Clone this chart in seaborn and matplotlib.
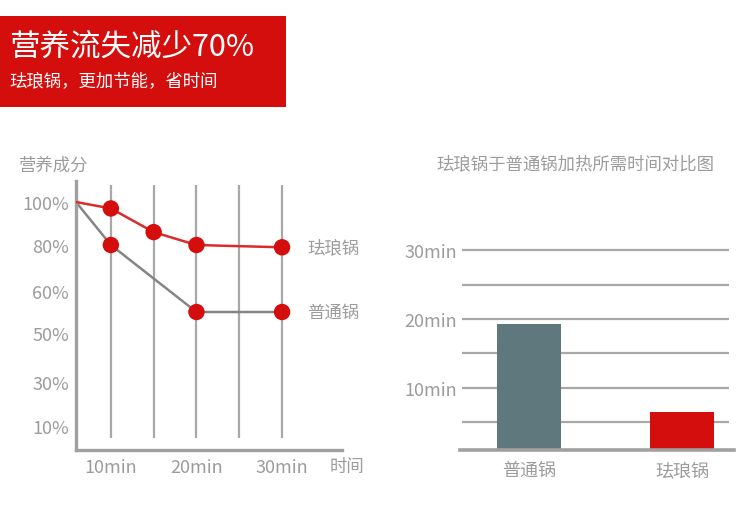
import numpy as np
import pandas as pd
import matplotlib
matplotlib.use("Agg")
import matplotlib.pyplot as plt
import seaborn as sns
from matplotlib.patches import Rectangle

# left chart: nutrient kept over cooking time
minutes_enamel = [0, 10, 15, 20, 30]
nutrients_enamel = [100, 97, 86, 80, 79]
minutes_normal = [0, 10, 20, 30]
nutrients_normal = [100, 80, 55, 55]
pct_ticks = [10, 30, 50, 60, 80, 100]
time_ticks = [10, 20, 30]
time_grid = [10, 15, 20, 25, 30]

# right chart: heating time
pots = ["普通锅", "珐琅锅"]
heat_minutes = [19.3, 6.5]
bar_ticks = [10, 20, 30]
bar_grid = [5, 10, 15, 20, 25, 30]

RED = "#d40d0d"
GREY_TXT = "#9c9c9c"
GRID = "#a8a8a8"
AXIS = "#a0a0a0"

sns.set_theme(style="white")
plt.rcParams['font.family'] = ['Noto Sans CJK SC', 'DejaVu Sans']

fig = plt.figure(figsize=(7.5, 5.06), dpi=100)

# header box
fig.patches.append(Rectangle((0, 0.7866), 0.3813, 0.1798, transform=fig.transFigure,
                             facecolor=RED, edgecolor="none"))
fig.text(0.012, 0.905, "营养流失减少70%", color="white", fontsize=22, va="center", ha="left")
fig.text(0.013, 0.840, "珐琅锅，更加节能，省时间", color="white", fontsize=12.5, va="center", ha="left")

# ---- left chart ----
ax1 = fig.add_axes([0.1013, 0.1087, 0.3547, 0.5316])

# the printed axes are not linear, so map them piecewise
y_vals = [0, 10, 30, 50, 60, 80, 100, 110]
y_pos = [0, 24, 68, 117, 159, 205, 248, 269]
x_vals = [0, 10, 37]
x_pos = [0, 35, 267]

def fwd_y(v):
    return np.interp(v, y_vals, y_pos)

def inv_y(p):
    return np.interp(p, y_pos, y_vals)

def fwd_x(v):
    return np.interp(v, x_vals, x_pos)

def inv_x(p):
    return np.interp(p, x_pos, x_vals)

ax1.set_yscale('function', functions=(fwd_y, inv_y))
ax1.set_xscale('function', functions=(fwd_x, inv_x))

ax1.vlines(time_grid, 5, 108, color=GRID, lw=1.6, zorder=1)

df_e = pd.DataFrame({"t": minutes_enamel, "v": nutrients_enamel})
df_n = pd.DataFrame({"t": minutes_normal, "v": nutrients_normal})
sns.lineplot(data=df_n, x="t", y="v", color="#858585", lw=1.8, ax=ax1, zorder=2)
sns.lineplot(data=df_e, x="t", y="v", color="#dd2a2a", lw=1.8, ax=ax1, zorder=3)
sns.scatterplot(data=df_n.iloc[1:], x="t", y="v", color=RED, s=140, edgecolor="none", ax=ax1, zorder=4)
sns.scatterplot(data=df_e.iloc[1:], x="t", y="v", color=RED, s=140, edgecolor="none", ax=ax1, zorder=4)

ax1.set_xlim(0, 37)
ax1.set_ylim(0, 110)
ax1.set_yticks(pct_ticks, labels=[f"{v}%" for v in pct_ticks])
ax1.set_xticks(time_ticks, labels=[f"{v}min" for v in time_ticks])
ax1.minorticks_off()
ax1.tick_params(axis="both", length=0, colors=GREY_TXT, labelsize=13)
ax1.tick_params(axis="y", pad=5)
ax1.tick_params(axis="x", pad=6)
ax1.set_xlabel("")
ax1.set_ylabel("")
for s in ["top", "right"]:
    ax1.spines[s].set_visible(False)
for s in ["left", "bottom"]:
    ax1.spines[s].set_color(AXIS)
    ax1.spines[s].set_linewidth(2.4)
ax1.grid(False)

ax1.annotate("珐琅锅", (minutes_enamel[-1], nutrients_enamel[-1]), xytext=(18, 0),
             textcoords="offset points", va="center", ha="left", color=GREY_TXT, fontsize=12.5)
ax1.annotate("普通锅", (minutes_normal[-1], nutrients_normal[-1]), xytext=(18, 0),
             textcoords="offset points", va="center", ha="left", color=GREY_TXT, fontsize=12.5)

fig.text(0.025, 1 - 166 / 506, "营养成分", color=GREY_TXT, fontsize=12.5, va="center", ha="left")
fig.text(0.44, 1 - 467 / 506, "时间", color=GREY_TXT, fontsize=12.5, va="center", ha="left")

# ---- right chart ----
ax2 = fig.add_axes([0.6133, 0.1087, 0.3653, 0.417])
ax2.hlines(bar_grid, -0.44, 1.31, color=GRID, lw=1.6, zorder=1)
sns.barplot(x=pots, y=heat_minutes, hue=pots, palette=["#5f787d", RED], width=0.42,
            legend=False, ax=ax2, zorder=2, saturation=1, linewidth=0)
ax2.set_xlim(-0.451, 1.34)
ax2.set_ylim(1.0, 31.6)
ax2.set_yticks(bar_ticks, labels=[f"{v}min" for v in bar_ticks])
ax2.tick_params(axis="both", length=0, colors=GREY_TXT, labelsize=13)
ax2.tick_params(axis="y", pad=2)
ax2.tick_params(axis="x", pad=8)
ax2.set_xlabel("")
ax2.set_ylabel("")
for s in ["top", "right", "left"]:
    ax2.spines[s].set_visible(False)
ax2.spines["bottom"].set_color(AXIS)
ax2.spines["bottom"].set_linewidth(2.6)
ax2.grid(False)

fig.text(575 / 750, 1 - 164 / 506, "珐琅锅于普通锅加热所需时间对比图", color=GREY_TXT,
         fontsize=12.5, va="center", ha="center")

fig.savefig("out.png", dpi=100, facecolor="white")
